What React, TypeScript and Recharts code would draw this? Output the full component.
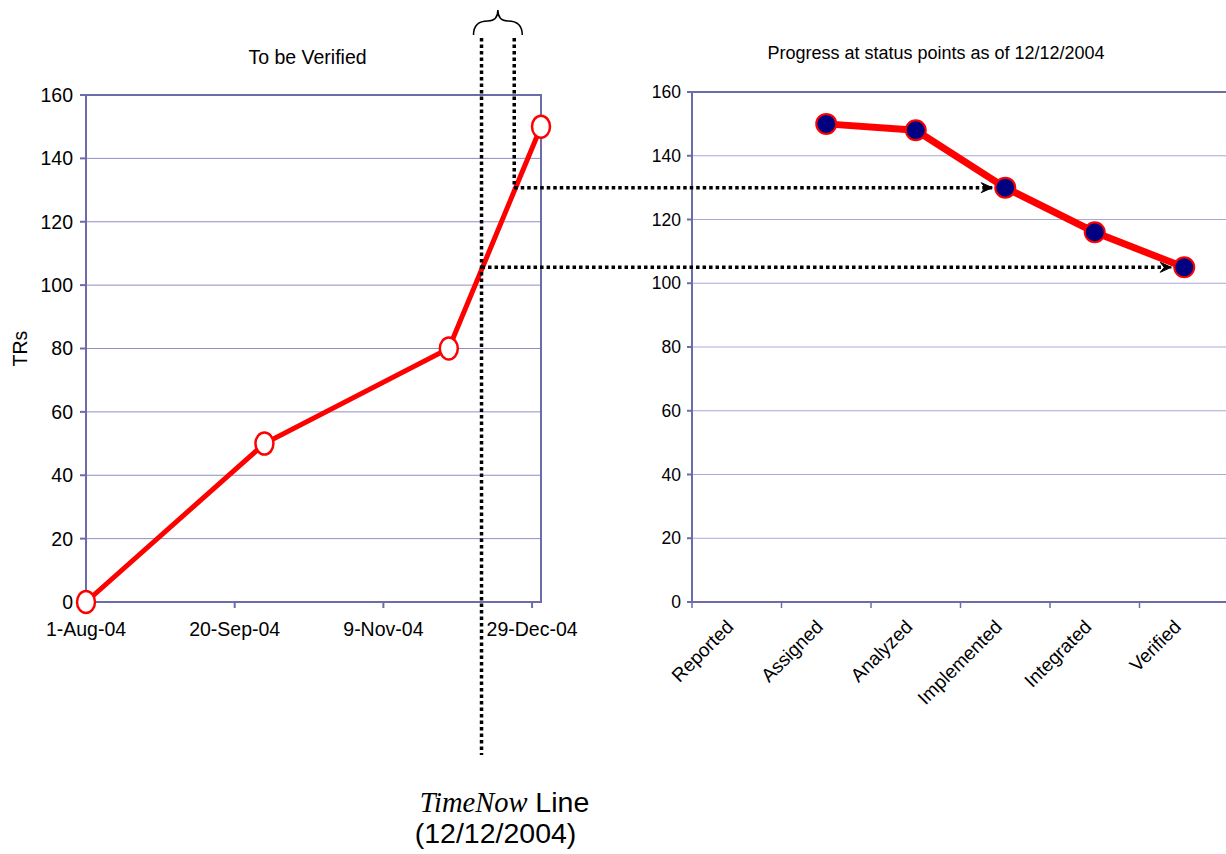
import React from "react";
import {
  CartesianGrid,
  Line,
  LineChart,
  ReferenceArea,
  XAxis,
  YAxis,
} from "recharts";

// left chart: TRs still to be verified over time
const VERIFIED_DATES = ["2004-08-01", "2004-09-30", "2004-12-01", "2005-01-01"];
const VERIFIED_TRS = [0, 50, 80, 150];
const DATE_TICKS = ["2004-08-01", "2004-09-20", "2004-11-09", "2004-12-29"];
const DATE_DOMAIN = ["2004-08-01", "2005-01-01"];
const TR_TICKS = [0, 20, 40, 60, 80, 100, 120, 140, 160];

// right chart: progress at status points
const STATUS_POINTS = ["Reported", "Assigned", "Analyzed", "Implemented", "Integrated", "Verified"];
const STATUS_TRS: (number | null)[] = [null, 150, 148, 130, 116, 105];

// annotations
const TIME_NOW = "2004-12-12";
const LAG_DATE = "2004-12-23";
const LAG_STATUS = "Implemented";
const NOW_STATUS = "Verified";

const MONTHS = ["Jan", "Feb", "Mar", "Apr", "May", "Jun", "Jul", "Aug", "Sep", "Oct", "Nov", "Dec"];
const ts = (s: string) => Date.parse(s + "T00:00:00Z");
const fmtDate = (v: number) => {
  const d = new Date(v);
  return `${d.getUTCDate()}-${MONTHS[d.getUTCMonth()]}-${String(d.getUTCFullYear()).slice(2)}`;
};

const AXIS = "#6c6ca8";
const GRID_L = "#8f8fc2";
const GRID_R = "#a9a9d6";
const FONT = "'Liberation Sans', Arial, sans-serif";

// layout
const L = { left: 0, top: 0, w: 600, h: 700, m: { top: 95, right: 59, bottom: 58, left: 26 }, yw: 60, xh: 40 };
const R = { left: 600, top: 0, w: 640, h: 750, m: { top: 92, right: 11, bottom: 38, left: 37 }, yw: 55, xh: 110 };

const LX0 = L.left + L.m.left + L.yw;
const LX1 = L.left + L.w - L.m.right;
const LY0 = L.top + L.m.top;
const LY1 = L.top + L.h - L.m.bottom - L.xh;
const RX0 = R.left + R.m.left + R.yw;
const RX1 = R.left + R.w - R.m.right;
const RY0 = R.top + R.m.top;
const RY1 = R.top + R.h - R.m.bottom - R.xh;

const d0 = ts(DATE_DOMAIN[0]);
const d1 = ts(DATE_DOMAIN[1]);
const lx = (s: string) => LX0 + ((ts(s) - d0) / (d1 - d0)) * (LX1 - LX0);
const rx = (i: number) => RX0 + ((i + 0.5) / STATUS_POINTS.length) * (RX1 - RX0);
const ry = (v: number) => RY1 - (v / 160) * (RY1 - RY0);

const leftData = VERIFIED_DATES.map((d, i) => ({ t: ts(d), trs: VERIFIED_TRS[i] }));
const rightData = STATUS_POINTS.map((s, i) => ({ i, name: s, trs: STATUS_TRS[i] }));
const statusTicks = STATUS_POINTS.flatMap((_, i) => [i - 0.5, i]).concat([STATUS_POINTS.length - 0.5]);

function StatusTick(props: any) {
  const { x, y, payload } = props;
  const v = payload.value as number;
  if (Number.isInteger(v)) {
    const ax = x - 2;
    const ay = y + 20;
    return (
      <text
        x={ax}
        y={ay}
        textAnchor="end"
        transform={`rotate(-45 ${ax} ${ay})`}
        fontSize={19}
        fill="#000"
      >
        {STATUS_POINTS[v]}
      </text>
    );
  }
  return <line x1={x} x2={x} y1={y - 6} y2={y} stroke={AXIS} strokeWidth={1.5} />;
}

function OvalDot(props: any) {
  const { cx, cy, index } = props;
  if (cx == null || cy == null) return null;
  return <ellipse key={index} cx={cx} cy={cy} rx={9} ry={11} fill="#fff" stroke="#ff0000" strokeWidth={2.5} />;
}

function Arrow({ x1, x2, y }: { x1: number; x2: number; y: number }) {
  return (
    <g>
      <line x1={x1} x2={x2} y1={y} y2={y} stroke="#000" strokeWidth={3.5} strokeDasharray="3.5 3" />
      <path d={`M ${x2 - 11} ${y - 5} L ${x2} ${y} L ${x2 - 11} ${y + 5} L ${x2 - 7} ${y} Z`} stroke="#000" strokeWidth={1} fill="#000" />
    </g>
  );
}

export default function App() {
  const nowX = lx(TIME_NOW);
  const lagX = lx(LAG_DATE);
  const lagIdx = STATUS_POINTS.indexOf(LAG_STATUS);
  const nowIdx = STATUS_POINTS.indexOf(NOW_STATUS);
  const lagY = ry(STATUS_TRS[lagIdx] as number);
  const nowY = ry(STATUS_TRS[nowIdx] as number);
  const braceMid = (nowX + lagX) / 2;

  return (
    <div
      style={{
        position: "absolute",
        left: 0,
        top: 0,
        width: 1226,
        height: 854,
        overflow: "hidden",
        background: "#fff",
        fontFamily: FONT,
      }}
    >
      <div style={{ position: "absolute", left: L.left, top: L.top }}>
        <LineChart width={L.w} height={L.h} data={leftData} margin={L.m}>
          <CartesianGrid vertical={false} stroke={GRID_L} strokeWidth={1} />
          <ReferenceArea
            x1={d0}
            x2={d1}
            y1={0}
            y2={160}
            fill="none"
            stroke={AXIS}
            strokeWidth={2}
            ifOverflow="visible"
          />
          <XAxis
            type="number"
            dataKey="t"
            domain={[d0, d1]}
            ticks={DATE_TICKS.map(ts)}
            tickFormatter={fmtDate}
            height={L.xh}
            stroke={AXIS}
            strokeWidth={2}
            tickSize={6}
            tickMargin={14}
            tick={{ fill: "#000", fontSize: 19.5 }}
          />
          <YAxis
            domain={[0, 160]}
            ticks={TR_TICKS}
            width={L.yw}
            stroke={AXIS}
            strokeWidth={2}
            tickSize={6}
            tickMargin={7}
            tick={{ fill: "#000", fontSize: 19.5 }}
          />
          <Line
            dataKey="trs"
            stroke="#ff0000"
            strokeWidth={5}
            dot={<OvalDot />}
            isAnimationActive={false}
          />
        </LineChart>
      </div>

      <div style={{ position: "absolute", left: R.left, top: R.top }}>
        <LineChart width={R.w} height={R.h} data={rightData} margin={R.m}>
          <CartesianGrid vertical={false} stroke={GRID_R} strokeWidth={1} />
          <ReferenceArea
            x1={-0.5}
            x2={STATUS_POINTS.length - 0.5}
            y1={0}
            y2={160}
            fill="none"
            stroke={AXIS}
            strokeWidth={2}
            ifOverflow="visible"
          />
          <XAxis
            type="number"
            dataKey="i"
            domain={[-0.5, STATUS_POINTS.length - 0.5]}
            ticks={statusTicks}
            interval={0}
            height={R.xh}
            stroke={AXIS}
            strokeWidth={2}
            tickLine={false}
            tickSize={6}
            tickMargin={0}
            tick={<StatusTick />}
          />
          <YAxis
            domain={[0, 160]}
            ticks={TR_TICKS}
            width={R.yw}
            stroke={AXIS}
            strokeWidth={2}
            tickSize={5}
            tickMargin={6}
            tick={{ fill: "#000", fontSize: 17.5 }}
          />
          <Line
            dataKey="trs"
            stroke="#ff0000"
            strokeWidth={7}
            connectNulls
            dot={{ r: 10, fill: "#000080", stroke: "#ff0000", strokeWidth: 2 }}
            isAnimationActive={false}
          />
        </LineChart>
      </div>

      <svg
        width={1226}
        height={854}
        style={{ position: "absolute", left: 0, top: 0, pointerEvents: "none" }}
      >
        <text x={(LX0 + LX1) / 2 - 6} y={64} textAnchor="middle" fontSize={19.5} fontFamily={FONT}>
          To be Verified
        </text>
        <text x={936} y={59} textAnchor="middle" fontSize={18} fontFamily={FONT}>
          Progress at status points as of 12/12/2004
        </text>
        <text
          x={20}
          y={(LY0 + LY1) / 2}
          textAnchor="middle"
          dominantBaseline="central"
          fontSize={19.5}
          fontFamily={FONT}
          transform={`rotate(-90 20 ${(LY0 + LY1) / 2})`}
        >
          TRs
        </text>

        <line x1={nowX} x2={nowX} y1={38} y2={755} stroke="#000" strokeWidth={3.5} strokeDasharray="3.5 3" />
        <line x1={lagX} x2={lagX} y1={38} y2={lagY} stroke="#000" strokeWidth={3.5} strokeDasharray="3.5 3" />
        <Arrow x1={lagX} x2={rx(lagIdx) - 13} y={lagY} />
        <Arrow x1={nowX} x2={rx(nowIdx) - 13} y={nowY} />

        <path
          d={`M ${nowX - 8} 35 Q ${nowX - 8} 21 ${braceMid - 10} 21 Q ${braceMid} 21 ${braceMid} 10 Q ${braceMid} 21 ${braceMid + 10} 21 Q ${lagX + 8} 21 ${lagX + 8} 35`}
          stroke="#000"
          strokeWidth={1.5}
          fill="none"
        />

        <text x={nowX + 23} y={812} textAnchor="middle" fontSize={28.5}>
          <tspan fontFamily="'Liberation Serif', serif" fontStyle="italic">TimeNow</tspan>
          <tspan fontFamily={FONT}> Line</tspan>
        </text>
        <text x={nowX + 14} y={843} textAnchor="middle" fontSize={28.5} fontFamily={FONT}>
          (12/12/2004)
        </text>
      </svg>
    </div>
  );
}
